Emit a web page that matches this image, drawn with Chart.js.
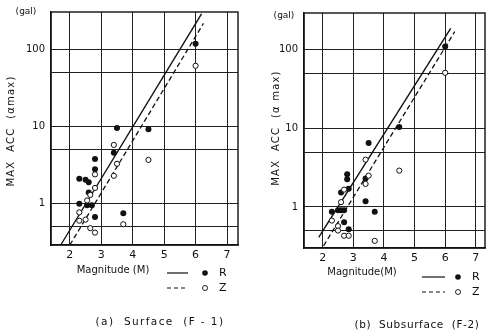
<!DOCTYPE html>
<html>
<head>
<meta charset="utf-8">
<script src="https://cdn.jsdelivr.net/npm/chart.js@4"></script>
<style>
  html, body { margin: 0; padding: 0; background: #fff; }
  #wrap { position: relative; width: 490px; height: 335px; overflow: hidden; }
  canvas { position: absolute; top: 0; }
</style>
</head>
<body>
<div id="wrap">
  <canvas id="ca" width="245" height="335" style="left:0px"></canvas>
  <canvas id="cb" width="245" height="335" style="left:245px"></canvas>
</div>
<script>
// ---------- data: panel (a) Surface (F-1) ----------
const magR_a = [2.3, 2.3, 2.5, 2.6, 2.6, 2.55, 2.7, 2.8, 2.8, 2.8, 3.4, 3.5, 3.7, 4.5, 6.0];
const accR_a = [2.1, 1.0, 2.05, 1.9, 1.4, 0.95, 0.95, 3.8, 2.8, 0.67, 4.6, 9.6, 0.75, 9.3, 120];
const magZ_a = [2.3, 2.3, 2.5, 2.55, 2.65, 2.65, 2.8, 2.8, 2.8, 3.4, 3.4, 3.5, 3.7, 4.5, 6.0];
const accZ_a = [0.77, 0.6, 0.62, 1.1, 1.3, 0.48, 0.42, 1.6, 2.4, 5.8, 2.3, 3.3, 0.54, 3.7, 62];
const fitR_a_mag = [1.71, 6.19];
const fitR_a_acc = [0.29, 294];
const fitZ_a_mag = [2.0, 6.25];
const fitZ_a_acc = [0.29, 220];

// ---------- data: panel (b) Subsurface (F-2) ----------
const magR_b = [2.3, 2.5, 2.6, 2.7, 2.6, 2.85, 2.8, 2.8, 2.7, 2.85, 3.4, 3.4, 3.5, 3.7, 4.5, 6.0];
const accR_b = [0.87, 0.91, 0.91, 0.91, 1.53, 1.7, 2.6, 2.25, 0.64, 0.52, 1.18, 2.3, 6.5, 0.87, 10.4, 110];
const magZ_b = [2.3, 2.5, 2.5, 2.7, 2.85, 2.6, 2.7, 3.4, 3.5, 3.4, 3.7, 4.5, 6.0];
const accZ_b = [0.67, 0.57, 0.5, 0.43, 0.43, 1.15, 1.66, 4.0, 2.5, 1.96, 0.37, 2.9, 51];
const fitR_b_mag = [1.87, 6.18];
const fitR_b_acc = [0.41, 188];
const fitZ_b_mag = [2.03, 6.31];
const fitZ_b_acc = [0.32, 170];

// ---------- ticks ----------
const xTicks = [2, 3, 4, 5, 6, 7];
const yGrid = [0.5, 1, 5, 10, 50, 100];
const yLabels = { 1: '1', 10: '10', 100: '100' };

const FONT = "'DejaVu Sans', 'Liberation Sans', sans-serif";
const INK = '#111';

function pts(xs, ys) { return xs.map((x, i) => ({ x: x, y: ys[i] })); }

function textPlugin(t) {
  return {
    id: 'texts',
    afterDraw(chart) {
      const ctx = chart.ctx;
      const a = chart.chartArea;
      ctx.save();
      // frame
      ctx.strokeStyle = INK;
      ctx.lineWidth = 1.4;
      ctx.strokeRect(a.left, a.top, a.right - a.left, a.bottom - a.top);
      ctx.fillStyle = INK;
      ctx.textBaseline = 'middle';
      // (gal)
      ctx.font = '9px ' + FONT;
      ctx.textAlign = 'center';
      ctx.fillText('(gal)', t.gal[0], t.gal[1]);
      // y title
      ctx.save();
      ctx.translate(t.ytitle[0], t.ytitle[1]);
      ctx.rotate(-Math.PI / 2);
      ctx.font = '10px ' + FONT;
      ctx.letterSpacing = '1.2px';
      ctx.fillText(t.ytext, 0, 0);
      ctx.restore();
      // x title
      ctx.font = '10px ' + FONT;
      ctx.textAlign = 'center';
      ctx.fillText(t.xtext, t.xtitle[0], t.xtitle[1]);
      // legend
      const L = t.legend;
      ctx.lineWidth = 1.2;
      ctx.strokeStyle = INK;
      ctx.beginPath();
      ctx.setLineDash([]);
      ctx.moveTo(L.x0, L.y1); ctx.lineTo(L.x1, L.y1); ctx.stroke();
      ctx.beginPath();
      ctx.setLineDash([4, 3]);
      ctx.moveTo(L.x0, L.y2); ctx.lineTo(L.x1, L.y2); ctx.stroke();
      ctx.setLineDash([]);
      ctx.beginPath(); ctx.arc(L.xd, L.y1, 2.8, 0, Math.PI * 2); ctx.fill();
      ctx.beginPath(); ctx.arc(L.xd, L.y2, 2.5, 0, Math.PI * 2);
      ctx.lineWidth = 0.9; ctx.stroke();
      ctx.font = '11px ' + FONT;
      ctx.textAlign = 'left';
      ctx.fillText('R', L.xt, L.y1);
      ctx.fillText('Z', L.xt, L.y2);
      // caption
      ctx.font = t.capFont + 'px ' + FONT;
      ctx.letterSpacing = t.capSpacing;
      ctx.textAlign = 'center';
      ctx.fillText(t.caption, t.cap[0], t.cap[1]);
      ctx.restore();
    }
  };
}

function makePanel(id, d, geo, t) {
  const ctx = document.getElementById(id).getContext('2d');
  return new Chart(ctx, {
    type: 'scatter',
    data: {
      datasets: [
        { label: 'R fit', data: pts(d.fRm, d.fRa), showLine: true, borderColor: INK, borderWidth: 1.4,
          pointRadius: 0, fill: false, order: 3 },
        { label: 'Z fit', data: pts(d.fZm, d.fZa), showLine: true, borderColor: INK, borderWidth: 1.3,
          borderDash: [5, 3], pointRadius: 0, fill: false, order: 3 },
        { label: 'Z', data: pts(d.zm, d.za), pointRadius: 2.6, pointBackgroundColor: '#fff',
          pointBorderColor: INK, pointBorderWidth: 1, showLine: false, order: 1 },
        { label: 'R', data: pts(d.rm, d.ra), pointRadius: 3, pointBackgroundColor: INK,
          pointBorderColor: INK, pointBorderWidth: 0, showLine: false, order: 2 }
      ]
    },
    options: {
      responsive: false,
      animation: false,
      devicePixelRatio: 1,
      clip: false,
      layout: { padding: geo.pad },
      plugins: { legend: { display: false }, tooltip: { enabled: false } },
      scales: {
        x: {
          type: 'linear', min: geo.xmin, max: geo.xmax,
          afterBuildTicks: s => { s.ticks = xTicks.map(v => ({ value: v })); },
          afterFit: s => { s.height = 15; },
          grid: { color: '#222', lineWidth: 1, drawTicks: false },
          border: { display: true, color: INK, width: 1.4 },
          ticks: { padding: 4, color: INK, font: { size: 11, family: FONT }, callback: v => String(v) }
        },
        y: {
          type: 'logarithmic', min: geo.ymin, max: geo.ymax,
          afterBuildTicks: s => { s.ticks = yGrid.map(v => ({ value: v })); },
          afterFit: s => { s.width = geo.yw; },
          grid: { color: '#222', lineWidth: 1, drawTicks: false },
          border: { display: true, color: INK, width: 1.4 },
          ticks: { padding: 6, color: INK, font: { size: 10, family: FONT },
                   callback: v => (yLabels[v] !== undefined ? yLabels[v] : '') }
        }
      }
    },
    plugins: [textPlugin(t)]
  });
}

makePanel('ca',
  { rm: magR_a, ra: accR_a, zm: magZ_a, za: accZ_a, fRm: fitR_a_mag, fRa: fitR_a_acc, fZm: fitZ_a_mag, fZa: fitZ_a_acc },
  { pad: { left: 0, top: 10, right: 7, bottom: 75 }, yw: 51, xmin: 1.4, xmax: 7.35, ymin: 0.29, ymax: 310 },
  { gal: [26, 12], ytitle: [11, 131], ytext: 'MAX  ACC  (αmax)', xtitle: [113, 270], xtext: 'Magnitude (M)',
    legend: { x0: 167, x1: 188, xd: 205, xt: 219, y1: 273, y2: 288 },
    caption: '(a)  Surface  (F - 1)', cap: [160, 322], capFont: 10.5, capSpacing: '1.4px' }
);

makePanel('cb',
  { rm: magR_b, ra: accR_b, zm: magZ_b, za: accZ_b, fRm: fitR_b_mag, fRa: fitR_b_acc, fZm: fitZ_b_mag, fZa: fitZ_b_acc },
  { pad: { left: 0, top: 13, right: 1, bottom: 72 }, yw: 59, xmin: 1.39, xmax: 7.3, ymin: 0.312, ymax: 294 },
  { gal: [39, 16], ytitle: [31, 128], ytext: 'MAX  ACC  (α max)', xtitle: [117, 272], xtext: 'Magnitude(M)',
    legend: { x0: 177, x1: 200, xd: 213, xt: 227, y1: 277, y2: 292 },
    caption: '(b)  Subsurface  (F-2)', cap: [172, 325], capFont: 10.5, capSpacing: '0.6px' }
);
</script>
</body>
</html>
